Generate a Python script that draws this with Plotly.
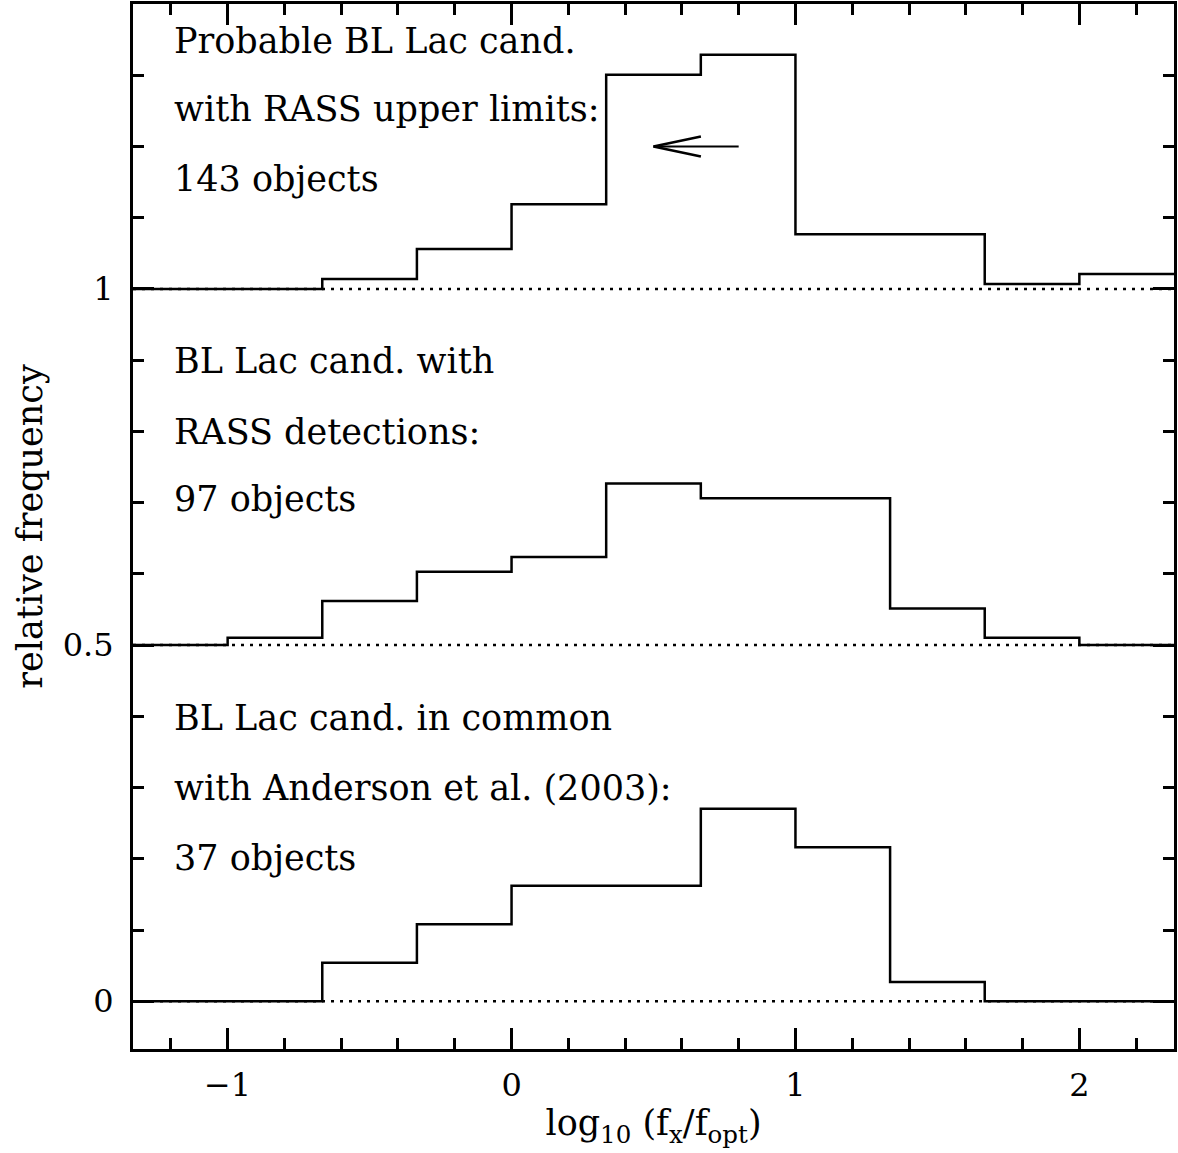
import plotly.graph_objects as go

# Bin edges in log10(fx/fopt), bin width 1/3
bin_edges = [-4/3, -1, -2/3, -1/3, 0, 1/3, 2/3, 1, 4/3, 5/3, 2, 7/3]

# Object counts per bin for the three samples
counts_upper_limits = [0, 0, 2, 8, 17, 43, 47, 11, 11, 1, 3]
counts_detections = [0, 1, 6, 10, 12, 22, 20, 20, 5, 1, 0]
counts_anderson = [0, 0, 2, 4, 6, 6, 10, 8, 1, 0, 0]

totals = [143, 97, 37]
offsets = [1.0, 0.5, 0.0]

labels = [
    ["Probable BL Lac cand.", "with RASS upper limits:", "143 objects"],
    ["BL Lac cand. with", "RASS detections:", "97 objects"],
    ["BL Lac cand. in common", "with Anderson et al. (2003):", "37 objects"],
]

FONT = "DejaVu Serif"
TICK_FS = 32
TITLE_FS = 35
TEXT_FS = 35

fig = go.Figure()

samples = [counts_upper_limits, counts_detections, counts_anderson]
x_min, x_max = bin_edges[0], bin_edges[-1]

for counts, n, off in zip(samples, totals, offsets):
    # dotted baseline of each panel
    fig.add_trace(go.Scatter(
        x=[x_min, x_max], y=[off, off], mode="lines",
        line=dict(color="black", width=2.5, dash="3px,6px"),
        hoverinfo="skip", showlegend=False))
    # step histogram of relative frequencies
    freq = [c / n for c in counts]
    ys = [off + f for f in freq] + [off + freq[-1]]
    fig.add_trace(go.Scatter(
        x=bin_edges, y=ys, mode="lines", line_shape="hv",
        line=dict(color="black", width=2.5),
        showlegend=False))

# panel captions
text_y = [[1.348, 1.253, 1.154], [0.899, 0.799, 0.705], [0.397, 0.299, 0.201]]
for lines, ys in zip(labels, text_y):
    for t, y in zip(lines, ys):
        fig.add_annotation(x=-1.196, y=y, text=t, showarrow=False,
                           xanchor="left", yanchor="middle",
                           font=dict(family=FONT, size=TEXT_FS, color="black"))

# arrow indicating upper limits (open arrowhead)
arrow_tail, arrow_tip, arrow_y = 0.80, 0.50, 1.20
fig.add_shape(type="line", x0=arrow_tail, y0=arrow_y, x1=arrow_tip, y1=arrow_y,
              line=dict(color="black", width=2))
for dy in (0.014, -0.014):
    fig.add_shape(type="line", x0=arrow_tip, y0=arrow_y, x1=0.667, y1=arrow_y + dy,
                  line=dict(color="black", width=2.5))

axis_common = dict(
    showgrid=False, zeroline=False, showline=True, linecolor="black", linewidth=3,
    mirror="ticks", ticks="inside", tickcolor="black", tickwidth=2.5, ticklen=21,
    tickfont=dict(family=FONT, size=TICK_FS, color="black"),
)

fig.update_xaxes(
    range=[x_min, x_max], tickmode="linear", tick0=0, dtick=1,
    minor=dict(ticks="inside", dtick=0.2, tick0=0, ticklen=11, tickwidth=2.5, tickcolor="black", showgrid=False),
    title=dict(text="log<sub>10</sub> (f<sub>x</sub>/f<sub>opt</sub>)",
               font=dict(family=FONT, size=TITLE_FS, color="black"), standoff=8),
    ticklabelstandoff=6,
    **axis_common)
fig.update_yaxes(
    range=[-0.067, 1.4], tickmode="array", tickvals=[0, 0.5, 1], ticktext=["0", "0.5", "1"],
    minor=dict(ticks="inside", dtick=0.1, tick0=0, ticklen=11, tickwidth=2.5, tickcolor="black", showgrid=False),
    title=dict(text="relative frequency", font=dict(family=FONT, size=TITLE_FS, color="black"), standoff=10),
    ticklabelstandoff=10,
    **axis_common)

fig.update_layout(
    width=1178, height=1153,
    margin=dict(l=133, r=2, t=1, b=104),
    plot_bgcolor="white", paper_bgcolor="white",
    showlegend=False,
)

fig.write_html("out.html")
